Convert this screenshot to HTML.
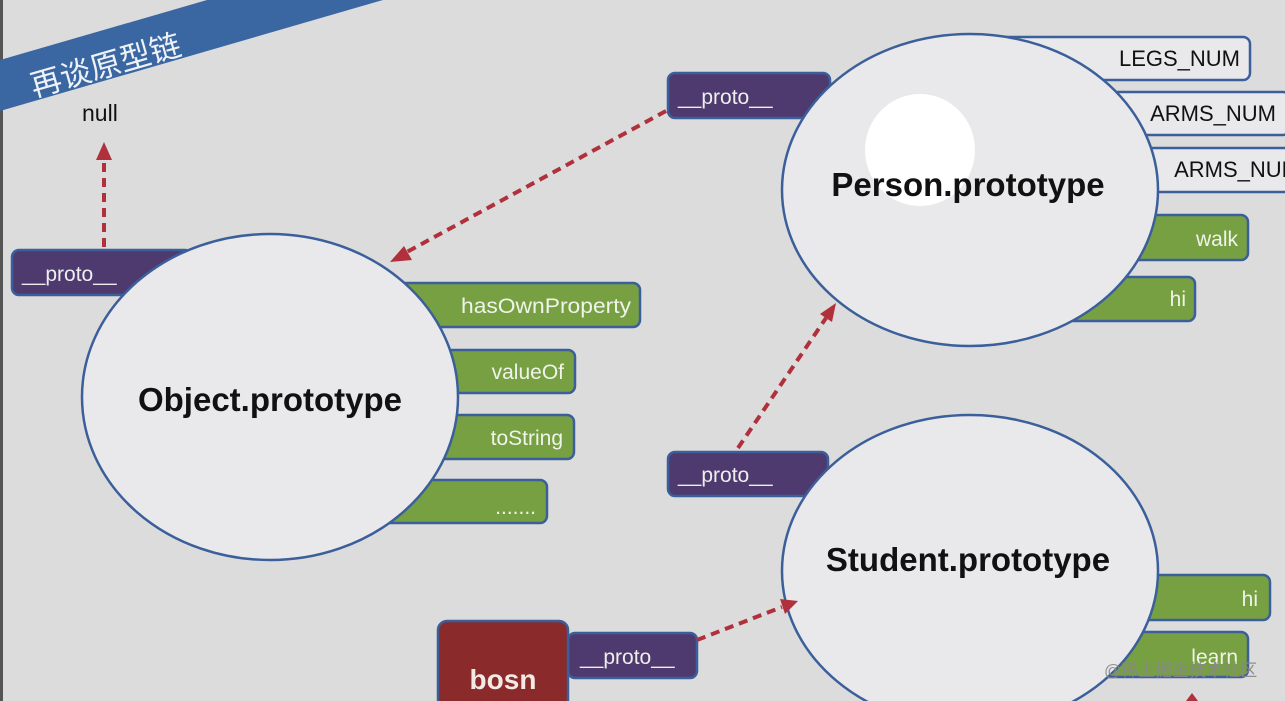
<!DOCTYPE html>
<html><head><meta charset="utf-8"><style>
html,body{margin:0;padding:0;background:#dcdcdc;width:1285px;height:701px;overflow:hidden}
svg{display:block}
text{font-family:"Liberation Sans","Noto Sans CJK SC",sans-serif}
</style></head><body>
<svg width="1285" height="701" viewBox="0 0 1285 701" xmlns="http://www.w3.org/2000/svg">
<rect width="1285" height="701" fill="#dcdcdc"/>
<rect x="0" y="0" width="3" height="701" fill="#555"/>
<!-- banner -->
<polygon points="0,60 207,0 383,0 0,111" fill="#3a67a2"/>
<text x="0" y="0" transform="translate(34,97) rotate(-16)" font-size="31" fill="#eef2f8">再谈原型链</text>
<text x="82" y="121" font-size="23" fill="#111">null</text>

<!-- Object property boxes -->
<g stroke="#3b5f9a" stroke-width="2.5" fill="#77a043">
<rect x="380" y="283" width="260" height="44" rx="7"/>
<rect x="400" y="350" width="175" height="43" rx="7"/>
<rect x="400" y="415" width="174" height="44" rx="7"/>
<rect x="380" y="480" width="167" height="43" rx="7"/>
</g>
<g fill="#f0f3ea" font-size="21" text-anchor="end">
<text x="631" y="313" textLength="170" lengthAdjust="spacingAndGlyphs">hasOwnProperty</text>
<text x="564" y="379">valueOf</text>
<text x="563" y="445">toString</text>
<text x="536" y="514">.......</text>
</g>
<!-- left proto -->
<rect x="12" y="250" width="180" height="45" rx="7" fill="#4e3a6e" stroke="#3b5f9a" stroke-width="2.5"/>
<text x="22" y="281" font-size="21" fill="#eee">__proto__</text>
<ellipse cx="270" cy="397" rx="188" ry="163" fill="#e9e9eb" stroke="#3b5f9a" stroke-width="2.5"/>
<text x="270" y="411" font-size="33" font-weight="bold" text-anchor="middle" fill="#111">Object.prototype</text>

<!-- Person boxes -->
<g stroke="#3b5f9a" stroke-width="2.5">
<rect x="1000" y="37" width="250" height="43" rx="7" fill="#e9e9eb"/>
<rect x="1040" y="92" width="250" height="43" rx="7" fill="#e9e9eb"/>
<rect x="1060" y="148" width="240" height="44" rx="7" fill="#e9e9eb"/>
<rect x="1060" y="215" width="188" height="45" rx="7" fill="#77a043"/>
<rect x="1040" y="277" width="155" height="44" rx="7" fill="#77a043"/>
</g>
<g font-size="22" text-anchor="end" fill="#111">
<text x="1240" y="66">LEGS_NUM</text>
<text x="1276" y="121">ARMS_NUM</text>
<text x="1300" y="177">ARMS_NUM</text>
</g>
<g font-size="21" text-anchor="end" fill="#f0f3ea">
<text x="1238" y="246">walk</text>
<text x="1186" y="306">hi</text>
</g>
<rect x="668" y="73" width="162" height="45" rx="7" fill="#4e3a6e" stroke="#3b5f9a" stroke-width="2.5"/>
<text x="678" y="104" font-size="21" fill="#eee">__proto__</text>
<ellipse cx="970" cy="190" rx="188" ry="156" fill="#e9e9eb" stroke="#3b5f9a" stroke-width="2.5"/>
<ellipse cx="920" cy="150" rx="55" ry="56" fill="#fff"/>
<text x="968" y="196" font-size="33" font-weight="bold" text-anchor="middle" fill="#111">Person.prototype</text>

<!-- Student -->
<g stroke="#3b5f9a" stroke-width="2.5" fill="#77a043">
<rect x="1080" y="575" width="190" height="45" rx="7"/>
<rect x="1080" y="632" width="168" height="45" rx="7"/>
</g>
<g font-size="21" text-anchor="end" fill="#f0f3ea">
<text x="1258" y="606">hi</text>
<text x="1238" y="664">learn</text>
</g>
<rect x="668" y="452" width="160" height="44" rx="7" fill="#4e3a6e" stroke="#3b5f9a" stroke-width="2.5"/>
<text x="678" y="482" font-size="21" fill="#eee">__proto__</text>
<ellipse cx="970" cy="571" rx="188" ry="156" fill="#e9e9eb" stroke="#3b5f9a" stroke-width="2.5"/>
<text x="968" y="571" font-size="33" font-weight="bold" text-anchor="middle" fill="#111">Student.prototype</text>

<!-- bosn -->
<rect x="568" y="633" width="129" height="45" rx="7" fill="#4e3a6e" stroke="#3b5f9a" stroke-width="2.5"/>
<text x="580" y="664" font-size="21" fill="#eee">__proto__</text>
<rect x="438" y="621" width="130" height="100" rx="9" fill="#8a2a2a" stroke="#3b5f9a" stroke-width="2.5"/>
<text x="503" y="689" font-size="28" font-weight="bold" text-anchor="middle" fill="#f3eae6">bosn</text>

<!-- arrows -->
<g stroke="#b0303c" stroke-width="4" stroke-dasharray="9,6" fill="none">
<line x1="104" y1="247" x2="104" y2="160"/>
<line x1="666" y1="111" x2="405" y2="253"/>
<line x1="738" y1="448" x2="826" y2="318"/>
<line x1="697" y1="640" x2="782" y2="607"/>
</g>
<g fill="#b0303c">
<polygon points="104,142 96,160 112,160"/>
<polygon points="390,262 404,246 412,260"/>
<polygon points="836,303 820,314 832,322"/>
<polygon points="798,601 780,599 785,614"/>
<polygon points="1192,693 1186,701 1198,701"/>
</g>
<text x="1104" y="676" font-size="17" fill="#888" opacity="0.9">@稀土掘金技术社区</text>
</svg>
</body></html>
